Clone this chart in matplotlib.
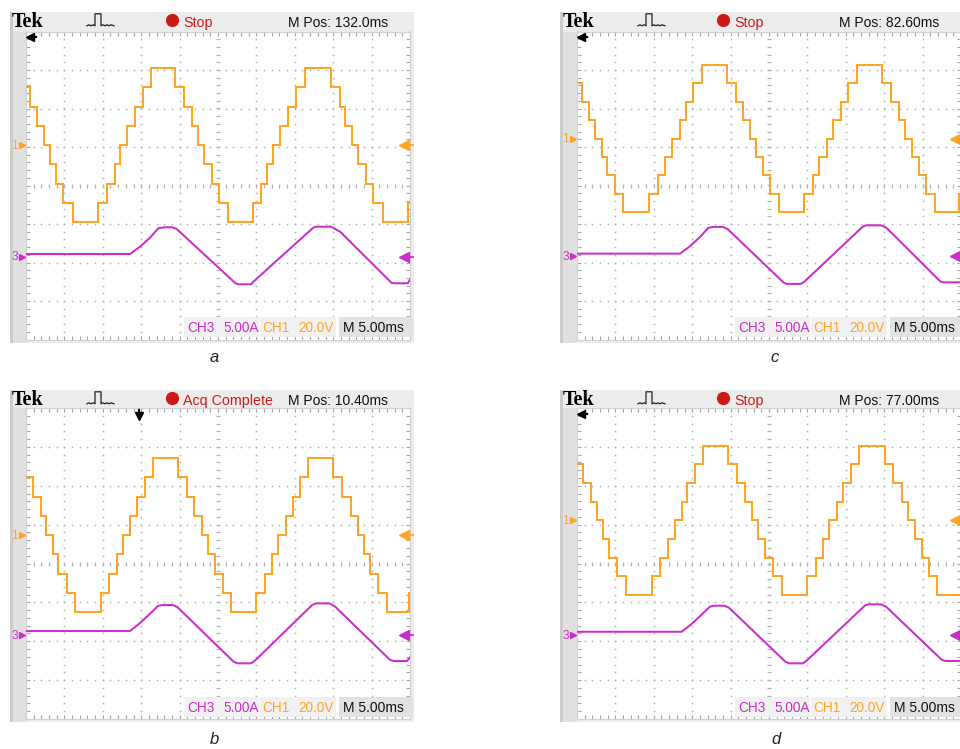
import numpy as np
import matplotlib
matplotlib.use("Agg")
import matplotlib.pyplot as plt
from matplotlib.patches import Rectangle, Circle
from matplotlib.lines import Line2D
from matplotlib.transforms import Affine2D

# ---------------------------------------------------------------- scope setup
MS_PER_DIV = 5.0          # time base
V_PER_DIV = 20.0          # CH1: inverter output voltage
A_PER_DIV = 5.0           # CH3: load current
H_DIVS, V_DIVS = 10, 8

# ---------------------------------------------------------------- capture a
a_status = "Stop"
a_mpos = "M Pos: 132.0ms"
a_ch1_pos = 1.05          # channel reference positions, divisions
a_ch3_pos = -1.85
a_step_volts = 10.0
a_switch_ms = [0.52, 1.39, 2.34, 3.13, 3.91, 4.86, 6.08,
               9.41, 10.59, 11.59, 12.24, 13.11, 14.19, 15.20, 16.24,
               19.40, 20.57, 21.57, 22.43, 23.18, 24.18, 25.13, 26.26,
               29.52, 30.56, 31.42, 32.20, 33.07, 34.15, 35.16, 36.33,
               39.67, 40.89, 41.54, 42.41, 43.26, 44.22, 45.22, 46.45,
               49.78]
a_levels = [3, 2, 1, 0, -1, -2, -3, -4,
            -3, -2, -1, 0, 1, 2, 3, 4,
            3, 2, 1, 0, -1, -2, -3, -4,
            -3, -2, -1, 0, 1, 2, 3, 4,
            3, 2, 1, 0, -1, -2, -3, -4,
            -3]
a_cur_ms = [0, 13.54, 14.84, 16.15, 17.22, 18.0, 19.0, 19.62, 27.21, 27.6,
            29.3, 29.6, 37.4, 37.7, 39.7, 40.9, 47.6, 48.0, 49.7, 50.0]
a_cur_amps = [0.35, 0.35, 1.30, 2.47, 3.69, 3.82, 3.82, 3.60, -3.38, -3.58,
              -3.58, -3.25, 3.77, 3.90, 3.90, 3.25, -3.40, -3.45, -3.45, -3.0]

# ---------------------------------------------------------------- capture b
b_status = "Acq Complete"
b_mpos = "M Pos: 10.40ms"
b_ch1_pos = 0.73
b_ch3_pos = -1.84
b_step_volts = 9.9
b_trigger_ms = 14.7
b_switch_ms = [0.87, 1.91, 2.60, 3.47, 4.21, 5.29, 6.38,
               9.72, 10.85, 11.81, 12.67, 13.54, 14.41, 15.49, 16.58,
               19.83, 20.92, 21.87, 22.88, 23.74, 24.61, 25.61, 26.65,
               29.95, 31.12, 31.99, 32.85, 33.81, 34.72, 35.67, 36.76,
               40.01, 41.10, 42.28, 43.27, 44.01, 44.79, 45.87, 46.96,
               49.90]
b_levels = [3, 2, 1, 0, -1, -2, -3, -4,
            -3, -2, -1, 0, 1, 2, 3, 4,
            3, 2, 1, 0, -1, -2, -3, -4,
            -3, -2, -1, 0, 1, 2, 3, 4,
            3, 2, 1, 0, -1, -2, -3, -4,
            -3]
b_cur_ms = [0, 13.54, 14.8, 16.1, 17.2, 17.8, 19.1, 19.7, 27.0, 27.5,
            29.3, 29.8, 37.3, 37.8, 39.5, 40.2, 47.4, 47.9, 49.6, 50.0]
b_cur_amps = [0.51, 0.51, 1.5, 2.7, 3.75, 3.86, 3.86, 3.6, -3.4, -3.64,
              -3.64, -3.3, 3.9, 4.07, 4.07, 3.7, -3.2, -3.34, -3.34, -2.9]

# ---------------------------------------------------------------- capture c
c_status = "Stop"
c_mpos = "M Pos: 82.60ms"
c_ch1_pos = 1.22
c_ch3_pos = -1.84
c_step_volts = 9.6
c_switch_ms = [0.61, 1.61, 2.34, 3.21, 3.95, 4.95, 6.03,
               9.42, 10.59, 11.46, 12.33, 13.41, 14.19, 15.15, 16.24,
               19.49, 20.66, 21.65, 22.52, 23.26, 24.17, 25.13, 26.34,
               29.60, 30.69, 31.55, 32.51, 33.37, 34.33, 35.32, 36.42,
               39.67, 40.84, 41.96, 42.71, 43.58, 44.57, 45.44, 46.61,
               49.78]
c_levels = [3, 2, 1, 0, -1, -2, -3, -4,
            -3, -2, -1, 0, 1, 2, 3, 4,
            3, 2, 1, 0, -1, -2, -3, -4,
            -3, -2, -1, 0, 1, 2, 3, 4,
            3, 2, 1, 0, -1, -2, -3, -4,
            -3]
c_cur_ms = [0, 13.41, 14.7, 16.0, 17.1, 17.7, 19.0, 19.6, 26.9, 27.3,
            29.1, 29.6, 37.2, 37.6, 39.6, 40.3, 47.3, 47.7, 50.0]
c_cur_amps = [0.35, 0.35, 1.3, 2.5, 3.7, 3.82, 3.82, 3.55, -3.4, -3.58,
              -3.58, -3.3, 3.85, 4.03, 4.03, 3.7, -3.25, -3.38, -3.38]

# ---------------------------------------------------------------- capture d
d_status = "Stop"
d_mpos = "M Pos: 77.00ms"
d_ch1_pos = 1.11
d_ch3_pos = -1.84
d_step_volts = 9.6
d_switch_ms = [0.74, 1.78, 2.56, 3.43, 4.21, 5.16, 6.38,
               9.72, 10.81, 11.89, 12.76, 13.63, 14.36, 15.36, 16.44,
               19.70, 20.87, 21.87, 22.75, 23.61, 24.48, 25.48, 26.65,
               29.91, 31.12, 31.99, 32.85, 33.81, 34.67, 35.68, 36.76,
               40.10, 41.18, 42.28, 43.13, 44.00, 44.88, 45.87, 46.91]
d_levels = [3, 2, 1, 0, -1, -2, -3, -4,
            -3, -2, -1, 0, 1, 2, 3, 4,
            3, 2, 1, 0, -1, -2, -3, -4,
            -3, -2, -1, 0, 1, 2, 3, 4,
            3, 2, 1, 0, -1, -2, -3, -4]
d_cur_ms = [0, 13.63, 14.9, 16.2, 17.3, 17.9, 19.2, 19.8, 27.1, 27.6,
            29.4, 29.9, 37.5, 37.9, 39.6, 40.3, 47.5, 48.0, 50.0]
d_cur_amps = [0.42, 0.42, 1.4, 2.6, 3.65, 3.77, 3.77, 3.5, -3.4, -3.64,
              -3.64, -3.3, 3.8, 3.95, 3.95, 3.6, -3.2, -3.34, -3.34]

# ---------------------------------------------------------------- styling
ORANGE = "#FFA526"
PURPLE = "#C92EC9"
RED = "#CC1A1A"
BEZEL_TOP = "#ececec"
BEZEL_SIDE = "#e0e0e0"
BEZEL_EDGE = "#cccccc"
GRID = "#b3b3b3"
SANS = ["Liberation Sans", "DejaVu Sans"]

W, H = 960, 749
fig = plt.figure(figsize=(W / 100, H / 100), dpi=100)
fig.patch.set_facecolor("white")
# pixel coordinates measured from the top-left corner
PX = Affine2D().scale(1.0 / W, -1.0 / H).translate(0, 1) + fig.transFigure


def ftext(x, y, s, **kw):
    kw.setdefault("family", SANS)
    return fig.text(x, y, s, transform=PX, **kw)


def fline(xs, ys, **kw):
    fig.add_artist(Line2D(xs, ys, transform=PX, **kw))


def draw_capture(grid, frame, status, mpos, ch1_pos, ch3_pos, step_volts,
                 switch_ms, levels, cur_ms, cur_amps, trigger_ms,
                 label, label_xy):
    gl, gt, gr, gb = grid
    fl, ft, fr, fb = frame
    dx = (gr - gl) / H_DIVS
    dy = (gb - gt) / V_DIVS

    def ypix(div):
        return gt + (V_DIVS / 2 - div) * dy

    # bezel around the graticule
    fig.add_artist(Rectangle((fl, ft), fr - fl, fb - ft, transform=PX,
                             fc=BEZEL_TOP, ec="none", zorder=-3))
    fig.add_artist(Rectangle((fl, gt), gl - fl, fb - gt, transform=PX,
                             fc=BEZEL_SIDE, ec="none", zorder=-2))
    fig.add_artist(Rectangle((fl, ft), 2.5, fb - ft, transform=PX,
                             fc=BEZEL_EDGE, ec="none", zorder=-2))

    ax = fig.add_axes([gl / W, 1 - gb / H, (gr - gl) / W, (gb - gt) / H])
    t_end = H_DIVS * MS_PER_DIV
    ax.set_xlim(0, t_end)
    ax.set_ylim(-V_DIVS / 2, V_DIVS / 2)
    ax.set_facecolor("white")

    # dotted graticule
    ys = np.arange(-V_DIVS / 2, V_DIVS / 2 + 1e-6, 0.2)
    xs = np.arange(0, t_end + 1e-6, MS_PER_DIV / 5)
    for i in range(1, H_DIVS):
        if i == H_DIVS // 2:
            continue
        ax.plot(np.full_like(ys, i * MS_PER_DIV), ys, ls="none", marker="s",
                ms=1.1, mew=0, color=GRID, zorder=1)
    for j in range(-V_DIVS // 2 + 1, V_DIVS // 2):
        if j == 0:
            continue
        ax.plot(xs, np.full_like(xs, j), ls="none", marker="s",
                ms=1.1, mew=0, color=GRID, zorder=1)
    # centre cross with fine ticks
    ax.plot(np.full_like(ys, t_end / 2), ys, ls="none", marker="_",
            ms=3.2, mew=0.9, color=GRID, zorder=1)
    ax.plot(xs, np.zeros_like(xs), ls="none", marker="|",
            ms=3.2, mew=0.9, color=GRID, zorder=1)

    # edge rulers
    ax.set_xticks(np.arange(0, t_end + 1e-6, MS_PER_DIV))
    ax.set_xticks(xs, minor=True)
    ax.set_yticks(np.arange(-V_DIVS / 2, V_DIVS / 2 + 1e-6, 1))
    ax.set_yticks(ys, minor=True)
    ax.tick_params(which="both", direction="in", length=2.6, width=0.8,
                   color="#a5a5a5", top=True, right=True,
                   labelbottom=False, labelleft=False)
    for sp in ax.spines.values():
        sp.set_color("#d2d2d2")
        sp.set_linewidth(0.8)

    # CH1 staircase voltage
    vt = [0.0] + list(switch_ms) + [t_end]
    vy = [ch1_pos + k * step_volts / V_PER_DIV for k in levels]
    vy = vy + [vy[-1]]
    ax.step(vt, vy, where="post", color=ORANGE, lw=1.45, zorder=4,
            solid_joinstyle="miter")
    # CH3 current
    iy = [ch3_pos + a / A_PER_DIV for a in cur_amps]
    ax.plot(cur_ms, iy, color=PURPLE, lw=1.45, zorder=4)

    # channel reference markers
    for pos, tag, col in ((ch1_pos, "1", ORANGE), (ch3_pos, "3", PURPLE)):
        y = ypix(pos)
        ftext(gl - 11.5, y + 0.5, tag, ha="center", va="center", color=col,
              fontsize=8.5)
        fline([gl - 4.5], [y], marker=">", ms=3.8, color=col, ls="none")
        fline([gr - 6, gr + 3], [y, y], color=col, lw=1.3)
        fline([gr - 6], [y], marker="<", ms=6.5, color=col, ls="none")

    # trigger position indicator
    if trigger_ms is None:
        fline([gl + 4, gl + 10], [gt + 5.5, gt + 5.5], color="black", lw=1.6)
        fline([gl + 3.5], [gt + 5.5], marker="<", ms=5.5, color="black",
              ls="none")
    else:
        xt = gl + trigger_ms / MS_PER_DIV * dx
        fline([xt, xt], [gt + 1.5, gt + 7], color="black", lw=1.6)
        fline([xt], [gt + 7.5], marker="v", ms=5.5, color="black", ls="none")

    # status bar
    base = ft + 14.8
    ftext(gl - 14, base, "Tek", family=["Liberation Serif", "DejaVu Serif"],
          fontweight="bold", fontsize=14.5, va="baseline", color="black")
    ix = gl + 61
    fline([ix, ix + 2, ix + 4, ix + 6, ix + 8, ix + 8, ix + 14, ix + 14,
           ix + 16, ix + 18, ix + 20, ix + 22, ix + 24, ix + 27],
          [base - 1, base - 2, base - 1, base - 2, base - 1, base - 13,
           base - 13, base - 1, base - 2, base - 1, base - 2, base - 1,
           base - 2, base - 1], color="#222222", lw=0.9)
    fig.add_artist(Circle((gl + 146.5, ft + 8.5), 6.6, transform=PX,
                          fc=RED, ec="none"))
    ftext(gl + 157, base, status, fontsize=10.3, color=RED, va="baseline")
    ftext(gl + 262, base, mpos, fontsize=10.0, color="#111111", va="baseline")

    # scale readout
    rb = gb - 7.0
    rx = gl + 161
    for x0, x1, col in ((rx - 3, rx + 72, "#f1f1f1"),
                        (rx + 73, rx + 149, "#f1f1f1"),
                        (rx + 152, rx + 226, "#e2e2e2")):
        fig.add_artist(Rectangle((x0, gb - 22.5), x1 - x0, 20, transform=PX,
                                 fc=col, ec="none", zorder=2))
    ftext(rx, rb, "CH3", fontsize=9.8, color=PURPLE, va="baseline")
    ftext(rx + 36, rb, "5.00A", fontsize=9.8, color=PURPLE, va="baseline")
    ftext(rx + 75, rb, "CH1", fontsize=9.8, color=ORANGE, va="baseline")
    ftext(rx + 111, rb, "20.0V", fontsize=9.8, color=ORANGE, va="baseline")
    ftext(rx + 156, rb, "M 5.00ms", fontsize=10.0, color="#111111",
          va="baseline")

    # sub-figure caption
    fig.text(label_xy[0], label_xy[1], label, transform=PX, ha="center",
             va="center", fontsize=12, fontstyle="italic",
             family=SANS, color="#222222")


draw_capture((26, 31.5, 410, 339.5), (10, 12, 414, 343), a_status, a_mpos,
             a_ch1_pos, a_ch3_pos, a_step_volts, a_switch_ms, a_levels,
             a_cur_ms, a_cur_amps, None, "a", (214, 358))
draw_capture((26, 408, 410, 719), (10, 390, 414, 722), b_status, b_mpos,
             b_ch1_pos, b_ch3_pos, b_step_volts, b_switch_ms, b_levels,
             b_cur_ms, b_cur_amps, b_trigger_ms, "b", (214, 740))
draw_capture((577, 31.5, 961, 339.5), (560, 12, 965, 343), c_status, c_mpos,
             c_ch1_pos, c_ch3_pos, c_step_volts, c_switch_ms, c_levels,
             c_cur_ms, c_cur_amps, None, "c", (775, 358))
draw_capture((577, 408, 961, 719), (560, 390, 965, 722), d_status, d_mpos,
             d_ch1_pos, d_ch3_pos, d_step_volts, d_switch_ms, d_levels,
             d_cur_ms, d_cur_amps, None, "d", (776, 740))

fig.savefig("out.png", dpi=100, facecolor="white")
